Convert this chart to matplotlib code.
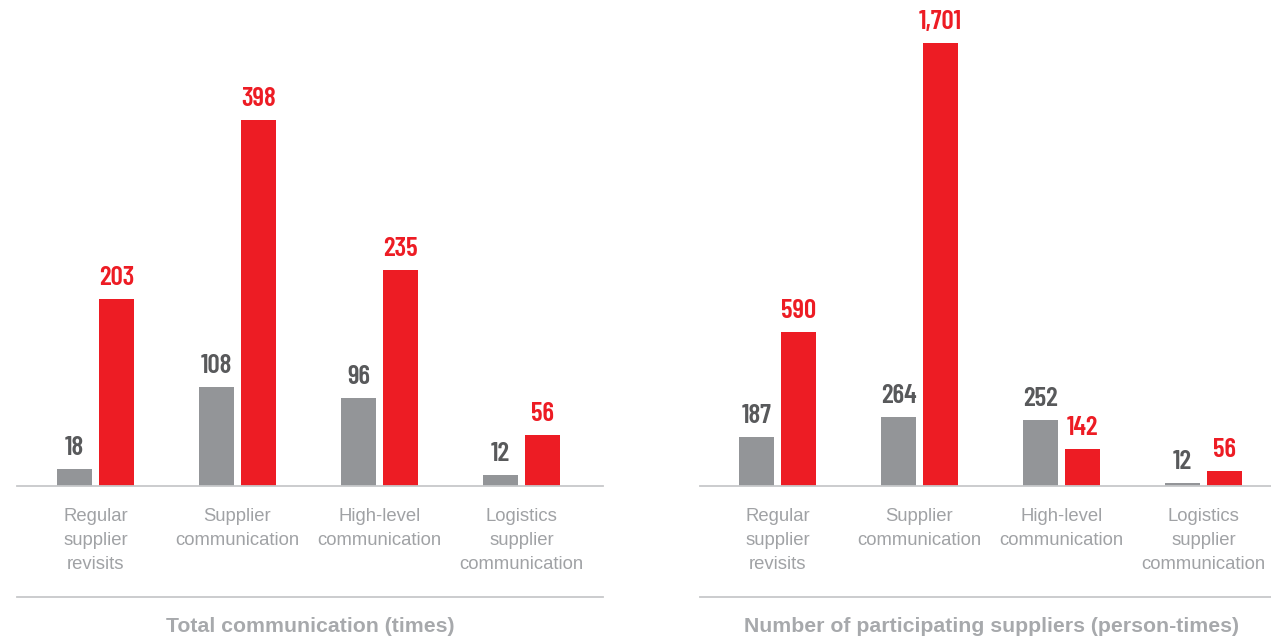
import matplotlib
matplotlib.use("Agg")
import matplotlib.pyplot as plt
from matplotlib.lines import Line2D

# Data
categories = ["Regular\nsupplier\nrevisits", "Supplier\ncommunication",
              "High-level\ncommunication", "Logistics\nsupplier\ncommunication"]
comm_prev = [18, 108, 96, 12]
comm_curr = [203, 398, 235, 56]
supp_prev = [187, 264, 252, 12]
supp_curr = [590, 1701, 142, 56]
titles = ["Total communication (times)",
          "Number of participating suppliers (person-times)"]

GRAY = "#939598"
RED = "#ED1C24"
DARK = "#58595B"
LABEL = "#A0A2A5"
LINE = "#C7C8CA"

W, H = 1271, 640
fig = plt.figure(figsize=(W / 100, H / 100), dpi=100)
fig.patch.set_facecolor("white")

NUM_FONT = ["Barlow Condensed", "DejaVu Sans"]
TXT_FONT = ["Liberation Sans", "DejaVu Sans"]


def px_axes(x0, x1, y_base, y_top):
    # pixel box (from top-left) -> figure fraction axes
    return fig.add_axes([x0 / W, (H - y_base) / H, (x1 - x0) / W, (y_base - y_top) / H])


def draw_panel(x0, x1, first_center, prev, curr, top_px, top_val, title, title_x):
    ax = px_axes(x0, x1, 486, 10)
    step = 142.0
    ax.set_xlim((x0 - first_center) / step, (x1 - first_center) / step)
    ax.set_ylim(0, top_val * 476 / (486 - top_px))
    xs = list(range(len(categories)))
    bw = 35 / step
    off = 21 / step
    ax.bar([x - off for x in xs], prev, width=bw, color=GRAY, zorder=2)
    ax.bar([x + off for x in xs], curr, width=bw, color=RED, zorder=2)
    ymax = ax.get_ylim()[1]
    gap = ymax * 14 / 476
    for x, v in zip(xs, prev):
        ax.text(x - off, v + gap, f"{v:,}", ha="center", va="baseline",
                fontsize=19.5, fontweight=600, color=DARK, family=NUM_FONT)
    for x, v in zip(xs, curr):
        ax.text(x + off, v + gap, f"{v:,}", ha="center", va="baseline",
                fontsize=19.5, fontweight=600, color=RED, family=NUM_FONT)
    for s in ["top", "right", "left"]:
        ax.spines[s].set_visible(False)
    ax.spines["bottom"].set_color(LINE)
    ax.spines["bottom"].set_linewidth(1.3)
    ax.set_yticks([])
    ax.set_xticks(xs)
    ax.set_xticklabels(categories, fontsize=13.3, color=LABEL, family=TXT_FONT,
                       linespacing=1.56, ha="center", multialignment="center")
    ax.tick_params(axis="x", length=0, pad=15.5)
    ax.set_facecolor("none")

    # separator line above the panel title
    fig.add_artist(Line2D([x0 / W, x1 / W], [(H - 597) / H] * 2,
                          color=LINE, linewidth=1.3))
    fig.text(title_x / W, (H - 626) / H, title, ha="center", va="center",
             fontsize=15.3, fontweight="bold", color="#A7A9AC", family=TXT_FONT)
    return ax


draw_panel(17, 603, 95.5, comm_prev, comm_curr, 120, 398, titles[0], 310)
draw_panel(700, 1271, 777.5, supp_prev, supp_curr, 43, 1701, titles[1], 992)

fig.savefig("out.png", dpi=100, facecolor="white")
